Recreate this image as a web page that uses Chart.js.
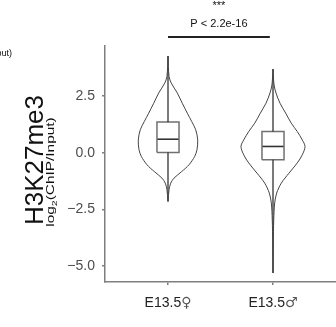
<!DOCTYPE html>
<html lang="en">
<head>
<meta charset="UTF-8">
<title>H3K27me3 violin</title>
<script src="https://cdn.jsdelivr.net/npm/chart.js"></script>
<style>
  html, body { margin: 0; padding: 0; background: #fff; }
  #wrap { width: 336px; height: 327px; }
</style>
</head>
<body>
<div id="wrap"><canvas id="violinChart" width="336" height="327"></canvas></div>
<script>
// groups on the x axis
const groups = ['E13.5', 'E13.5'];
const groupSymbols = ['\u2640', '\u2642'];
const yTicks = [-5, -2.5, 0, 2.5];

// violin outlines: log2 value and half width (in group units)
const femaleY  = [4.28, 3.37, 3.08, 2.64, 2.19, 1.75, 1.38, 1.02, 0.57, 0.13, -0.16, -0.53, -0.83, -1.12, -1.34, -1.63, -2.15];
const femaleHW = [0, 0.010, 0.031, 0.089, 0.136, 0.184, 0.226, 0.264, 0.283, 0.276, 0.254, 0.200, 0.130, 0.057, 0.026, 0.010, 0];
const maleY    = [3.70, 3.00, 2.64, 2.19, 1.75, 1.31, 0.94, 0.57, 0.28, -0.09, -0.45, -0.90, -1.34, -1.78, -2.22, -2.96, -3.97, -5.31];
const maleHW   = [0, 0.010, 0.029, 0.067, 0.121, 0.174, 0.231, 0.279, 0.305, 0.279, 0.231, 0.152, 0.079, 0.035, 0.016, 0.007, 0.003, 0];

// box stats: min, q1, median, q3, max
const femaleBox = [-2.15, 0.01, 0.60, 1.36, 4.28];
const maleBox   = [-5.31, -0.31, 0.28, 0.94, 3.70];

const pLabel = 'P < 2.2e-16';
const starLabel = '***';

const BOX_HALF = 0.105;
const AXIS_GREY = '#7f7f7f';
const FONT = '"Liberation Sans", Arial, "DejaVu Sans", sans-serif';

function violinOutline(center, ys, hws) {
    const pts = [];
    for (let i = 0; i < ys.length; i++) pts.push({ x: center - hws[i], y: ys[i] });
    for (let i = ys.length - 1; i >= 0; i--) pts.push({ x: center + hws[i], y: ys[i] });
    return pts;
}

function boxSets(center, b) {
    const line = (data, color, width) => ({
        data: data, showLine: true, borderColor: color, borderWidth: width,
        pointRadius: 0, tension: 0, fill: false
    });
    return [
        line([{ x: center, y: b[3] }, { x: center, y: b[4] }], '#222', 1.2),
        line([{ x: center, y: b[1] }, { x: center, y: b[0] }], '#222', 1.2),
        line([
            { x: center - BOX_HALF, y: b[1] }, { x: center + BOX_HALF, y: b[1] },
            { x: center + BOX_HALF, y: b[3] }, { x: center - BOX_HALF, y: b[3] },
            { x: center - BOX_HALF, y: b[1] }
        ], '#707070', 1.5),
        line([{ x: center - BOX_HALF, y: b[2] }, { x: center + BOX_HALF, y: b[2] }], '#333', 1.6)
    ];
}

function violinSet(center, ys, hws) {
    return {
        data: violinOutline(center, ys, hws), showLine: true,
        borderColor: '#444', borderWidth: 1, pointRadius: 0, tension: 0.3, fill: false
    };
}

// titles, bracket, p-value and the group labels (mixed fonts)
const decorPlugin = {
    id: 'decor',
    afterDraw(chart) {
        const ctx = chart.ctx;
        const xs = chart.scales.x;
        ctx.save();
        ctx.fillStyle = '#111';

        // cut off label at the top left
        ctx.font = '9px ' + FONT;
        ctx.textAlign = 'right';
        ctx.textBaseline = 'alphabetic';
        ctx.fillText('log2(ChIP/Input)', 12, 56);

        // group labels
        ctx.textAlign = 'left';
        groups.forEach((g, i) => {
            ctx.font = '14px "Liberation Sans", Arial, sans-serif';
            const w1 = ctx.measureText(g).width;
            ctx.font = '14px "DejaVu Sans", sans-serif';
            const w2 = ctx.measureText(groupSymbols[i]).width;
            const left = xs.getPixelForValue(i + 1) - (w1 + w2) / 2;
            ctx.fillStyle = '#222';
            ctx.font = '14px "Liberation Sans", Arial, sans-serif';
            ctx.fillText(g, left, 307);
            ctx.fillStyle = '#555';
            ctx.font = '14px "DejaVu Sans", sans-serif';
            ctx.fillText(groupSymbols[i], left + w1, 307);
        });
        ctx.fillStyle = '#111';

        // bracket
        const bx1 = xs.getPixelForValue(1), bx2 = xs.getPixelForValue(1.97);
        const by = 37;
        ctx.strokeStyle = '#222';
        ctx.lineWidth = 2;
        ctx.beginPath();
        ctx.moveTo(bx1, by);
        ctx.lineTo(bx2, by);
        ctx.stroke();
        ctx.textAlign = 'center';
        ctx.textBaseline = 'middle';
        ctx.font = '11px ' + FONT;
        ctx.fillText(pLabel, (bx1 + bx2) / 2, by - 13);
        ctx.fillText(starLabel, (bx1 + bx2) / 2, by - 31);

        // y title
        ctx.save();
        ctx.translate(42.5, 160);
        ctx.rotate(-Math.PI / 2);
        ctx.textBaseline = 'alphabetic';
        ctx.font = '26px ' + FONT;
        ctx.fillText('H3K27me3', 0, 0);
        ctx.restore();

        // log2(ChIP/Input) with subscript, a bit stretched like the original
        ctx.save();
        ctx.translate(53.5, 172);
        ctx.rotate(-Math.PI / 2);
        ctx.scale(1.4, 1);
        ctx.textBaseline = 'alphabetic';
        ctx.textAlign = 'left';
        const big = '11px ' + FONT;
        const small = '7.5px ' + FONT;
        ctx.font = big;
        const w1 = ctx.measureText('log').width;
        const w3 = ctx.measureText('(ChIP/Input)').width;
        ctx.font = small;
        const w2 = ctx.measureText('2').width;
        let x0 = -(w1 + w2 + w3) / 2;
        ctx.font = big;
        ctx.fillText('log', x0, 0);
        ctx.font = small;
        ctx.fillText('2', x0 + w1, 3);
        ctx.font = big;
        ctx.fillText('(ChIP/Input)', x0 + w1 + w2, 0);
        ctx.restore();

        ctx.restore();
    }
};

const ctx = document.getElementById('violinChart').getContext('2d');
new Chart(ctx, {
    type: 'scatter',
    data: {
        datasets: [
            violinSet(1, femaleY, femaleHW),
            violinSet(2, maleY, maleHW),
            ...boxSets(1, femaleBox),
            ...boxSets(2, maleBox)
        ]
    },
    options: {
        responsive: false,
        animation: false,
        layout: { padding: { top: 46, left: 0, right: 0, bottom: 0 } },
        plugins: { legend: { display: false }, tooltip: { enabled: false } },
        scales: {
            x: {
                type: 'linear', min: 0.4, max: 2.6,
                afterFit(s) { s.height = 45; },
                afterBuildTicks(s) { s.ticks = [1, 2].map(v => ({ value: v })); },
                ticks: { display: false },
                grid: { drawOnChartArea: false, tickLength: 3, color: AXIS_GREY, lineWidth: 1.5 },
                border: { color: AXIS_GREY, width: 1.5 }
            },
            y: {
                min: -5.71, max: 4.72,
                afterFit(s) { s.width = 105; },
                afterBuildTicks(s) { s.ticks = yTicks.map(v => ({ value: v })); },
                ticks: {
                    callback: v => (v < 0 ? '\u2212' : '') + Math.abs(v).toFixed(1),
                    color: '#4d4d4d', padding: 7,
                    font: { family: FONT, size: 14 }
                },
                grid: { drawOnChartArea: false, tickLength: 3, color: AXIS_GREY, lineWidth: 1.5 },
                border: { color: AXIS_GREY, width: 1.5 }
            }
        }
    },
    plugins: [decorPlugin]
});
</script>
</body>
</html>
